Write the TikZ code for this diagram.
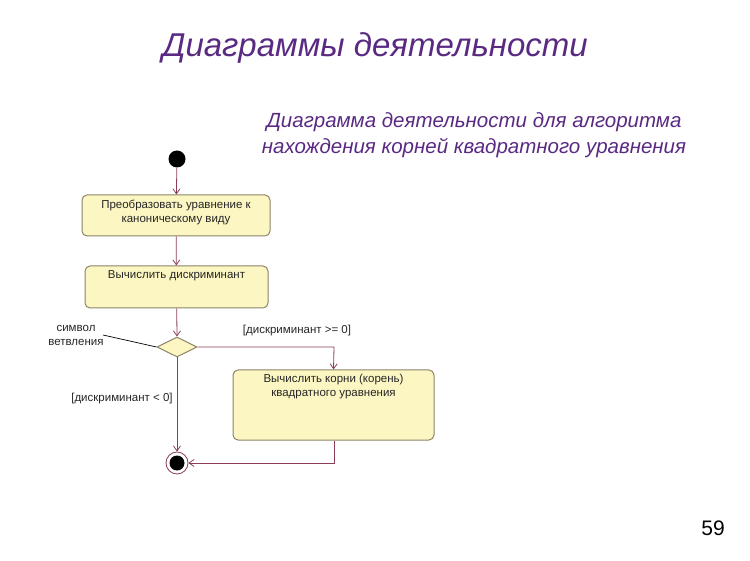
\documentclass[tikz,border=0pt]{standalone}
\usepackage{fontspec}
\setmainfont{Liberation Sans}
\usetikzlibrary{shapes.geometric,arrows.meta}
\definecolor{ttl}{HTML}{5A2A82}
\definecolor{ln}{HTML}{8A3F55}
\definecolor{bf}{HTML}{FCF6C2}
\definecolor{bd}{HTML}{8C8468}
\begin{document}
\begin{tikzpicture}[x=1pt,y=-1pt,
 box/.style={draw=bd,fill=bf,rounded corners=5pt,line width=1pt,inner sep=0pt},
 txt/.style={font=\fontsize{11.5}{14}\selectfont,align=center,text=black!85},
 flow/.style={draw=ln,line width=0.8pt,-{Straight Barb[length=5pt,width=7pt]}}]
\useasboundingbox (0,0) rectangle (750,561);
\node[text=ttl,font=\fontsize{33}{38}\selectfont\itshape] (t) at (375,48) {Диаграммы деятельности};
\node[text=ttl,font=\fontsize{20.5}{26}\selectfont\itshape,align=center] (st) at (474,135) {Диаграмма деятельности для алгоритма\\нахождения корней квадратного уравнения};
\node[circle,fill=black,minimum size=17pt,inner sep=0pt] (s) at (177,159) {};
\node[box,minimum width=188pt,minimum height=41pt] (b1) at (176,215.5) {};
\node[txt] (b1t) at (176,212) {Преобразовать уравнение к\\каноническому виду};
\node[box,minimum width=183pt,minimum height=42pt] (b2) at (176.5,287) {};
\node[txt] (b2t) at (176.5,276) {Вычислить дискриминант};
\node[diamond,draw=bd,fill=bf,line width=1pt,minimum width=40pt,minimum height=20pt,inner sep=0pt,aspect=2] (d) at (177,347) {};
\node[box,minimum width=201pt,minimum height=70pt] (b3) at (333.5,405) {};
\node[txt] (b3t) at (333.5,387) {Вычислить корни (корень)\\квадратного уравнения};
\node[circle,draw=ln,line width=0.8pt,fill=white,minimum size=22pt,inner sep=0pt] (e) at (177,463) {};
\node[circle,fill=black,minimum size=15pt,inner sep=0pt] (ei) at (177,463) {};
\node[txt,align=center] (sv) at (76,335) {символ\\ветвления};
\node[txt] (g1) at (297,331) {[дискриминант >= 0]};
\node[txt] (g2) at (122,399) {[дискриминант < 0]};
\node[font=\fontsize{21}{24}\selectfont] (pn) at (713,528) {59};
\coordinate (c1) at (334,347);
\coordinate (c2) at (334,463);
\draw[flow] (s) -- (b1);
\draw[flow] (b1) -- (b2);
\draw[flow] (b2) -- (d.north);
\draw[flow] (d.south) -- (e);
\draw[flow] (d.east) -- (c1) -- (b3.north);
\draw[flow] (b3.south -| c2) -- (c2) -- (e);
\draw[black,line width=0.7pt] (103,335) -- (d.west);
\end{tikzpicture}
\end{document}
